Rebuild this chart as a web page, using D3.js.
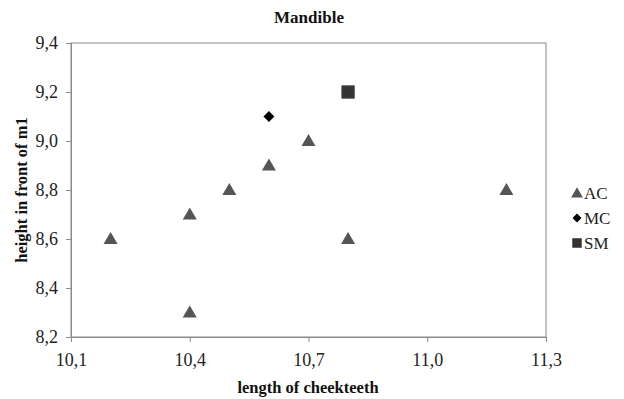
<!DOCTYPE html>
<html><head><meta charset="utf-8">
<script src="https://cdn.jsdelivr.net/npm/d3@7"></script>
<style>body{margin:0;background:#fff}svg{display:block}svg text{font-family:"Liberation Serif","Times New Roman",serif !important}</style>
</head><body><svg id="c" width="624" height="399"></svg>
<script>
const seriesNames = ["AC", "MC", "SM"];
const acX = [10.2, 10.4, 10.4, 10.5, 10.6, 10.7, 10.8, 11.2];
const acY = [8.6, 8.7, 8.3, 8.8, 8.9, 9.0, 8.6, 8.8];
const mcX = [10.6];
const mcY = [9.1];
const smX = [10.8];
const smY = [9.2];
const xTicks = [10.1, 10.4, 10.7, 11.0, 11.3];
const yTicks = [8.2, 8.4, 8.6, 8.8, 9.0, 9.2, 9.4];

const svg = d3.select("#c");
const L = 71, R = 546, T = 43, B = 337;
const x = d3.scaleLinear().domain([10.1, 11.3]).range([L, R]);
const y = d3.scaleLinear().domain([8.2, 9.4]).range([B, T]);
const fmt = d => d.toFixed(1).replace(".", ",");

svg.append("rect").attr("x", L).attr("y", T).attr("width", R - L).attr("height", B - T)
  .attr("fill", "none").attr("stroke", "#8a8a8a").attr("stroke-width", 1);

const xa = svg.append("g").attr("transform", `translate(0,${B})`)
  .call(d3.axisBottom(x).tickValues(xTicks).tickFormat(fmt).tickSize(5).tickPadding(11));
const ya = svg.append("g").attr("transform", `translate(${L},0)`)
  .call(d3.axisLeft(y).tickValues(yTicks).tickFormat(fmt).tickSize(5).tickPadding(8));
[xa, ya].forEach(a => {
  a.attr("font-family", "Liberation Serif").attr("font-size", 18);
  a.select(".domain").attr("stroke", "#8a8a8a");
  a.selectAll(".tick line").attr("stroke", "#8a8a8a");
  a.selectAll("text").attr("font-size", 18).attr("fill", "#222");
});

const shapes = { AC: d3.symbolTriangle, MC: d3.symbolSquare, SM: d3.symbolSquare };
const sizes = { AC: 85, MC: 60, SM: 155 };
const rot = { AC: 0, MC: 45, SM: 0 };
const col = { AC: "#555555", MC: "#000000", SM: "#333333" };
const data = {
  AC: acX.map((v, i) => [v, acY[i]]),
  MC: mcX.map((v, i) => [v, mcY[i]]),
  SM: smX.map((v, i) => [v, smY[i]])
};
seriesNames.forEach(s => {
  svg.append("g").selectAll("path").data(data[s]).join("path")
    .attr("d", d3.symbol().type(shapes[s]).size(sizes[s]))
    .attr("transform", d => `translate(${x(d[0])},${y(d[1]) + (s === "AC" ? 1 : 0)}) rotate(${rot[s]})`)
    .attr("fill", col[s]).attr("stroke", s === "SM" ? "#555" : "none");
});

svg.append("text").attr("x", 309).attr("y", 23).attr("text-anchor", "middle")
  .attr("font-size", 17).attr("font-weight", "bold").attr("fill", "#111").text("Mandible");
svg.append("text").attr("x", 308).attr("y", 393).attr("text-anchor", "middle")
  .attr("font-size", 16.5).attr("font-weight", "bold").attr("fill", "#111").text("length of cheekteeth");
svg.append("text").attr("transform", `translate(27,${(T + B) / 2}) rotate(-90)`).attr("text-anchor", "middle")
  .attr("font-size", 16.5).attr("font-weight", "bold").attr("fill", "#111").text("height in front of m1");

const lg = svg.append("g");
seriesNames.forEach((s, i) => {
  const yy = 193 + i * 25;
  lg.append("path").attr("d", d3.symbol().type(shapes[s]).size(s === "SM" ? 90 : s === "MC" ? 40 : 60))
    .attr("transform", `translate(577,${yy + (s === "AC" ? 1 : 0)}) rotate(${rot[s]})`).attr("fill", col[s]);
  lg.append("text").attr("x", 584).attr("y", yy + 6).attr("font-size", 17).attr("fill", "#222").text(s);
});
</script></body></html>
